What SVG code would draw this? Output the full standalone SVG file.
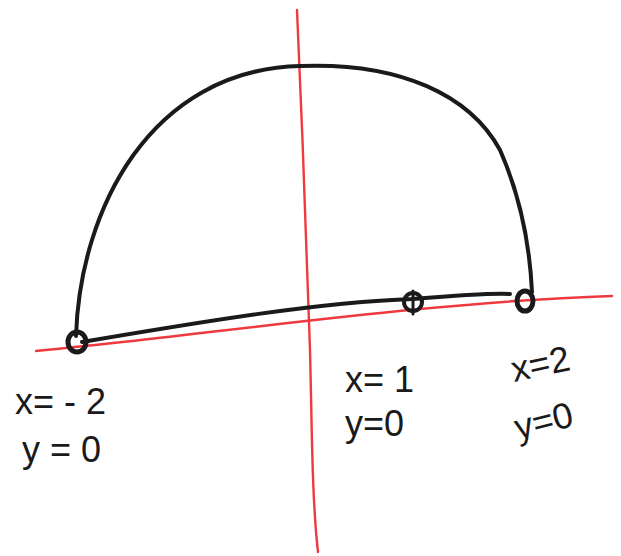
<svg xmlns="http://www.w3.org/2000/svg" width="621" height="556" viewBox="0 0 621 556">
<style>
.axis{fill:none;stroke:#ee3a3f;stroke-width:2.4;stroke-linecap:round}
.ink{fill:none;stroke:#1a1a1a;stroke-width:4;stroke-linecap:round;stroke-linejoin:round}
.pt{fill:none;stroke:#1a1a1a;stroke-width:5}
.lbl{font-family:"Liberation Sans",Arial,sans-serif;font-size:36px;fill:#1a1a1a}
</style>
<rect width="621" height="556" fill="#ffffff"/>
<g id="axes">
<path class="axis" d="M36,351 C200,336 420,302 612,296"/>
<path class="axis" d="M297,10 C302,120 308,280 310,350 C312,430 312,500 318,552"/>
</g>
<g id="connectors">
<path class="ink" d="M76,336 C80,210 150,70 300,66 C400,62 470,95 500,150 C522,200 530,250 532,292"/>
<path class="ink" d="M82,342 C200,322 320,302 413,299 C450,296 490,293 510,294"/>
</g>
<g id="node-left">
<ellipse class="pt" cx="77" cy="342" rx="9" ry="10"/>
<text class="lbl" x="15" y="414">x= - 2</text>
<text class="lbl" x="22" y="462">y = 0</text>
</g>
<g id="node-mid">
<circle class="pt" cx="413" cy="302" r="9" style="stroke-width:4"/>
<line class="ink" x1="413" y1="291" x2="413" y2="314" style="stroke-width:3"/>
<text class="lbl" x="345" y="392">x= 1</text>
<text class="lbl" x="345" y="436">y=0</text>
</g>
<g id="node-right">
<ellipse class="pt" cx="525" cy="301" rx="8" ry="10"/>
<text class="lbl" x="514" y="382" transform="rotate(-12 514 382)">x=2</text>
<text class="lbl" x="518" y="440" transform="rotate(-14 518 440)">y=0</text>
</g>
</svg>
